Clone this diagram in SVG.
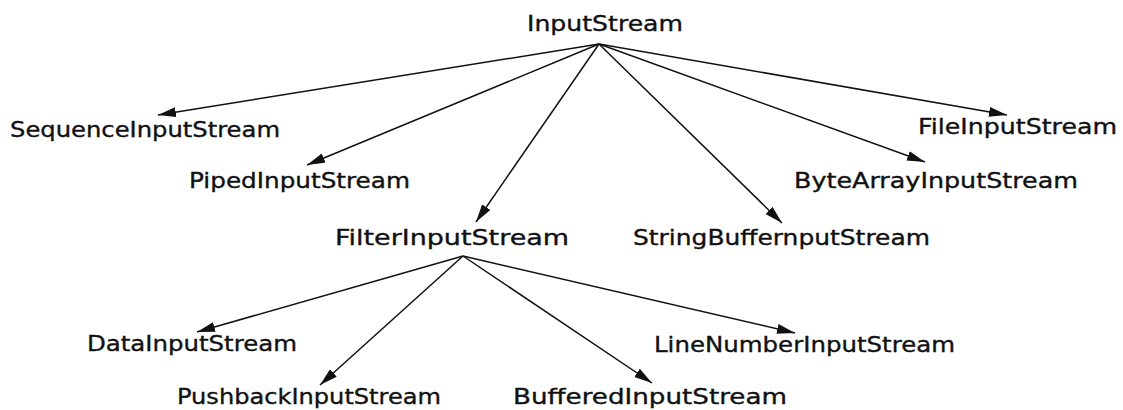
<svg xmlns="http://www.w3.org/2000/svg" width="1123" height="410" viewBox="0 0 1123 410">
<style>
text{font-family:"DejaVu Sans","Liberation Sans",sans-serif;font-size:21px;fill:#111;stroke:#111;stroke-width:0.35;}
.c line{stroke:#111;stroke-width:1.5;marker-end:url(#ah);}
</style>
<defs>
<marker id="ah" markerUnits="userSpaceOnUse" markerWidth="20" markerHeight="10" refX="18" refY="5" orient="auto">
<path d="M0,0 L18,5 L0,10 Z" fill="#111"/>
</marker>
</defs>
<rect width="1123" height="410" fill="#fff"/>
<g class="c" id="connectors">
<line x1="599" y1="44" x2="158" y2="115"/>
<line x1="599" y1="44" x2="307" y2="165"/>
<line x1="599" y1="44" x2="476" y2="222"/>
<line x1="599" y1="44" x2="782" y2="223"/>
<line x1="599" y1="44" x2="925" y2="162"/>
<line x1="599" y1="44" x2="1007" y2="115"/>
<line x1="463" y1="256" x2="197" y2="332"/>
<line x1="463" y1="256" x2="320" y2="385"/>
<line x1="463" y1="256" x2="652" y2="383"/>
<line x1="463" y1="256" x2="795" y2="333"/>
</g>
<g id="InputStream"><text x="527" y="31" textLength="156" lengthAdjust="spacingAndGlyphs">InputStream</text></g>
<g id="SequenceInputStream"><text x="10" y="137" textLength="270" lengthAdjust="spacingAndGlyphs">SequenceInputStream</text></g>
<g id="FileInputStream"><text x="918" y="134" textLength="199" lengthAdjust="spacingAndGlyphs">FileInputStream</text></g>
<g id="PipedInputStream"><text x="189" y="188" textLength="221" lengthAdjust="spacingAndGlyphs">PipedInputStream</text></g>
<g id="ByteArrayInputStream"><text x="794" y="188" textLength="284" lengthAdjust="spacingAndGlyphs">ByteArrayInputStream</text></g>
<g id="FilterInputStream"><text x="335" y="245" textLength="234" lengthAdjust="spacingAndGlyphs">FilterInputStream</text></g>
<g id="StringBuffernputStream"><text x="633" y="245" textLength="297" lengthAdjust="spacingAndGlyphs">StringBuffernputStream</text></g>
<g id="DataInputStream"><text x="87" y="351" textLength="210" lengthAdjust="spacingAndGlyphs">DataInputStream</text></g>
<g id="LineNumberInputStream"><text x="654" y="352" textLength="301" lengthAdjust="spacingAndGlyphs">LineNumberInputStream</text></g>
<g id="PushbackInputStream"><text x="177" y="404" textLength="264" lengthAdjust="spacingAndGlyphs">PushbackInputStream</text></g>
<g id="BufferedInputStream"><text x="513" y="404" textLength="274" lengthAdjust="spacingAndGlyphs">BufferedInputStream</text></g>
</svg>
